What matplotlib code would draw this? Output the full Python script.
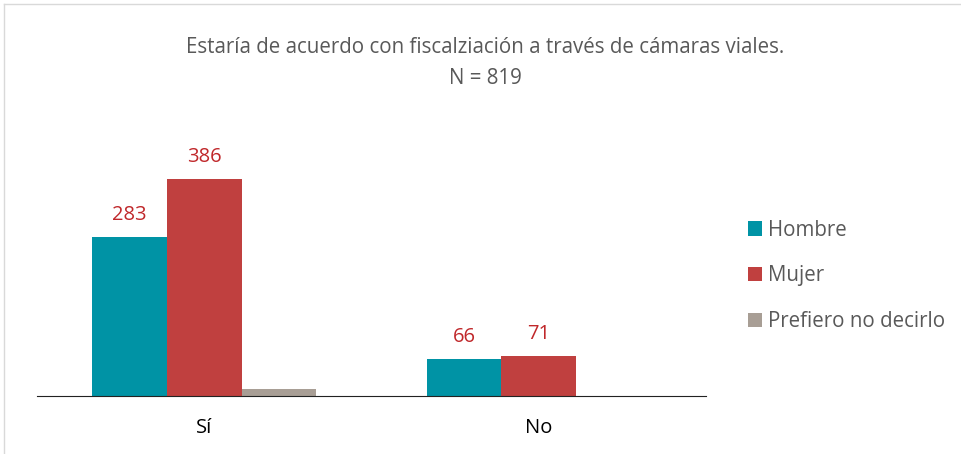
import matplotlib.pyplot as plt
from matplotlib.lines import Line2D
import numpy as np

categories = ['Sí', 'No']
series = ['Hombre', 'Mujer', 'Prefiero no decirlo']
hombre = [283, 66]
mujer = [386, 71]
prefiero = [13, 0]
colors = ['#0093A5', '#C0403F', '#A89E95']

plt.rcParams['font.family'] = ['Open Sans', 'DejaVu Sans']

fig = plt.figure(figsize=(9.61, 4.54), dpi=100)
ax = fig.add_axes([0.0385, 0.1278, 0.696, 0.557])

x = np.arange(len(categories))
w = 0.223
values = [hombre, mujer, prefiero]
for i, (name, vals) in enumerate(zip(series, values)):
    bars = ax.bar(x + (i - 1) * w, vals, w, color=colors[i], label=name)
    if i < 2:
        for b, v in zip(bars, vals):
            ax.text(b.get_x() + b.get_width() / 2, v + 22, str(v),
                    ha='center', va='bottom', color='#C0282B', fontsize=14.5)

ax.set_xlim(-0.5, 1.5)
ax.set_ylim(0, 450)
ax.set_yticks([])
ax.set_xticks(x)
ax.set_xticklabels(categories, fontsize=14.5)
ax.tick_params(axis='x', length=0, pad=16)
for s in ['top', 'right', 'left']:
    ax.spines[s].set_visible(False)
ax.spines['bottom'].set_color('#222222')

fig.text(0.505, 0.895, 'Estaría de acuerdo con fiscalziación a través de cámaras viales.',
         ha='center', va='center', fontsize=14.8, color='#595959')
fig.text(0.505, 0.826, 'N = 819', ha='center', va='center', fontsize=14.8, color='#595959')

ax.legend(loc='upper left', bbox_to_anchor=(1.035, 0.77), frameon=False,
          fontsize=14.8, labelcolor='#595959', handlelength=0.7, handleheight=0.7,
          handletextpad=0.3, labelspacing=1.2)

# light frame around the chart area
fig.add_artist(Line2D([0.0045, 0.0045], [0, 0.991], color='#D9D9D9', lw=1))
fig.add_artist(Line2D([0.0045, 1], [0.991, 0.991], color='#D9D9D9', lw=1))

fig.savefig('out.png', dpi=100)
